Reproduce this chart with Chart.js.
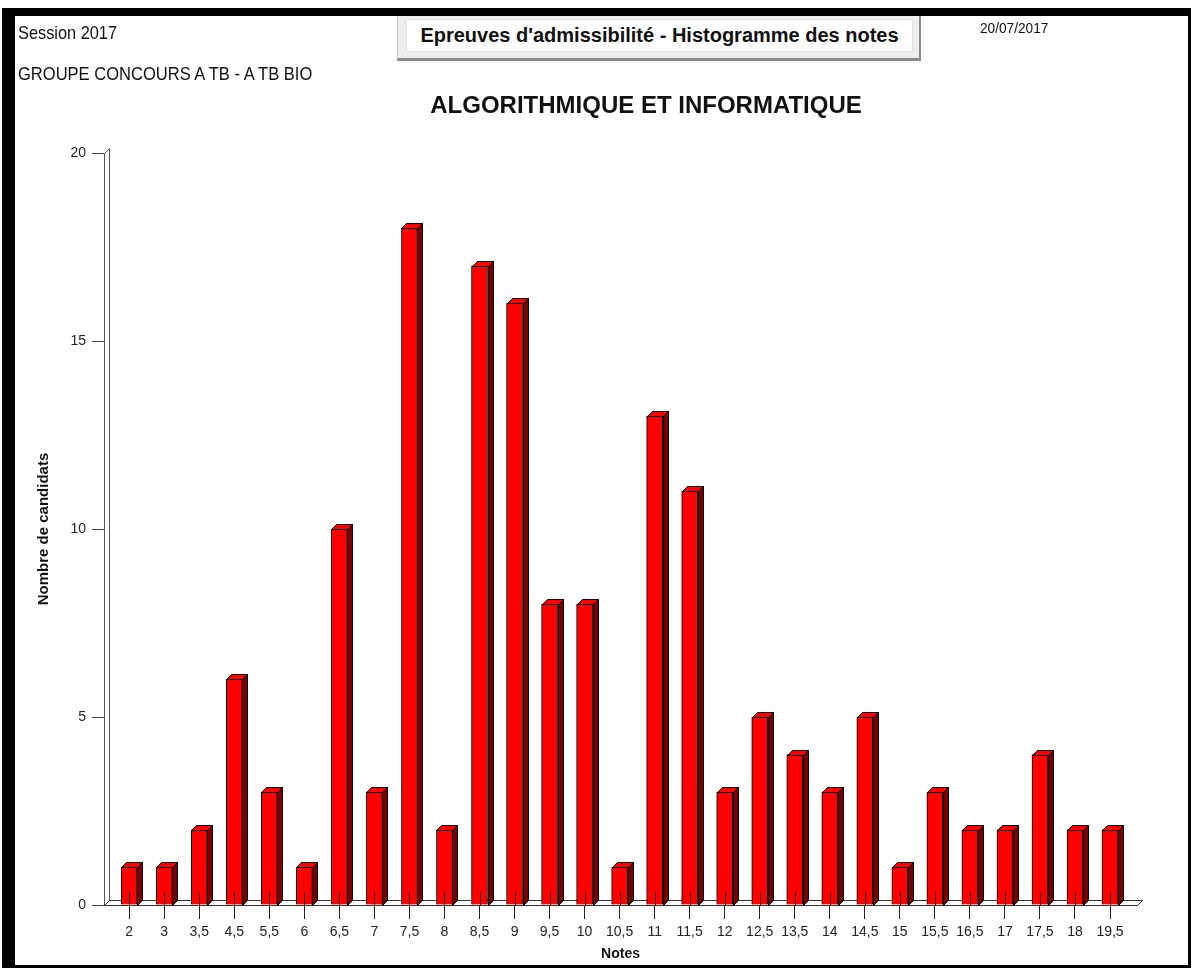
<!DOCTYPE html>
<html>
<head>
<meta charset="utf-8">
<script src="https://cdn.jsdelivr.net/npm/chart.js@4"></script>
<style>
  html, body { margin: 0; padding: 0; background: #fff; }
  #page { position: relative; width: 1192px; height: 969px; overflow: hidden; }
  #frame { position: absolute; left: 2px; top: 8px; width: 1189px; height: 960px; box-sizing: border-box;
           border-top: 8px solid #000; border-left: 13px solid #000; border-right: 3px solid #000; border-bottom: 3px solid #000; }
  canvas { position: absolute; left: 0; top: 0; }
  .txt { position: absolute; white-space: nowrap; color: #111; }
  .narrow { font-family: "Liberation Sans", Arial, sans-serif; transform-origin: left top; }
  .bold { font-family: "Liberation Sans", Arial, sans-serif; font-weight: bold; }
  #box { position: absolute; left: 397px; top: 16px; width: 524px; height: 45px; box-sizing: border-box;
         background: #eeeeee; border-left: 1px solid #c8c8c8; border-right: 2px solid #8a8a8a; border-bottom: 3px solid #8a8a8a; }
  #boxIn { position: absolute; left: 8px; top: 3px; right: 6px; bottom: 6px; background: #fff; border: 1px solid #e2e2e2;
           font: bold 20px "Liberation Sans", Arial, sans-serif; color: #111; text-align: center; line-height: 31px; }
</style>
</head>
<body>
<div id="page">
  <div id="frame"></div>
  <canvas id="histo" width="1192" height="969"></canvas>
  <div class="txt narrow" style="left:18px; top:22px; font-size:19px; transform:scaleX(0.86);">Session 2017</div>
  <div class="txt narrow" style="left:18px; top:63px; font-size:19px; transform:scaleX(0.87);">GROUPE CONCOURS A TB - A TB BIO</div>
  <div class="txt narrow" style="left:980px; top:19px; font-size:15px; transform:scaleX(0.91);">20/07/2017</div>
  <div id="box"><div id="boxIn">Epreuves d'admissibilité - Histogramme des notes</div></div>
  <div class="txt bold" style="left:0; width:1292px; text-align:center; top:91px; font-size:24px;">ALGORITHMIQUE ET INFORMATIQUE</div>
</div>
<script>
const notes = ['2', '3', '3,5', '4,5', '5,5', '6', '6,5', '7', '7,5', '8', '8,5', '9', '9,5', '10', '10,5',
  '11', '11,5', '12', '12,5', '13,5', '14', '14,5', '15', '15,5', '16,5', '17', '17,5', '18', '19,5'];
const candidats = [1, 1, 2, 6, 3, 1, 10, 3, 18, 2, 17, 16, 8, 8, 1, 13, 11, 3, 5, 4, 3, 5, 1, 3, 2, 2, 4, 2, 2];
const yTicks = [0, 5, 10, 15, 20];

const DEPTH = 5;

// sol + mur du fond en pseudo 3D
const floorPlugin = {
  id: 'floor',
  beforeDatasetsDraw(chart) {
    const { ctx, chartArea: a } = chart;
    ctx.save();
    ctx.lineWidth = 1;
    ctx.strokeStyle = '#333';
    ctx.fillStyle = '#fff';
    ctx.beginPath();
    ctx.moveTo(a.left + 0.5, a.bottom + 0.5);
    ctx.lineTo(a.left + DEPTH + 0.5, a.bottom - DEPTH + 0.5);
    ctx.lineTo(a.right + DEPTH + 0.5, a.bottom - DEPTH + 0.5);
    ctx.lineTo(a.right + 0.5, a.bottom + 0.5);
    ctx.closePath();
    ctx.fill();
    ctx.stroke();
    ctx.strokeStyle = '#555';
    ctx.beginPath();
    ctx.moveTo(a.left + 0.5, a.top + 0.5);
    ctx.lineTo(a.left + DEPTH + 0.5, a.top - DEPTH + 0.5);
    ctx.lineTo(a.left + DEPTH + 0.5, a.bottom - DEPTH + 0.5);
    ctx.stroke();
    ctx.restore();
  },
  afterDatasetsDraw(chart) {
    const { ctx, chartArea: a } = chart;
    const meta = chart.getDatasetMeta(0);
    ctx.save();
    ctx.lineWidth = 1;
    meta.data.forEach(bar => {
      const l = Math.round(bar.x - bar.width / 2) + 0.5;
      const r = Math.round(bar.x + bar.width / 2) + 0.5;
      const t = Math.round(bar.y) + 0.5;
      const b = Math.round(bar.base) + 0.5;
      ctx.strokeStyle = '#000';
      // face laterale
      ctx.fillStyle = '#7a0000';
      ctx.beginPath();
      ctx.moveTo(r, t);
      ctx.lineTo(r + DEPTH, t - DEPTH);
      ctx.lineTo(r + DEPTH, b - DEPTH);
      ctx.lineTo(r, b);
      ctx.closePath();
      ctx.fill();
      ctx.stroke();
      // dessus
      ctx.fillStyle = '#ff0000';
      ctx.beginPath();
      ctx.moveTo(l, t);
      ctx.lineTo(l + DEPTH, t - DEPTH);
      ctx.lineTo(r + DEPTH, t - DEPTH);
      ctx.lineTo(r, t);
      ctx.closePath();
      ctx.fill();
      ctx.stroke();
      // petit trait de graduation dans la barre
      const cx = Math.round(bar.x) + 0.5;
      ctx.strokeStyle = '#222';
      ctx.beginPath();
      ctx.moveTo(cx, a.bottom - 13);
      ctx.lineTo(cx, a.bottom);
      ctx.stroke();
    });
    ctx.restore();
  }
};

const tickFont = { family: '"Liberation Sans", Arial, sans-serif', size: 14 };

new Chart(document.getElementById('histo'), {
  type: 'bar',
  data: {
    datasets: [{
      data: candidats.map((v, i) => ({ x: i, y: v })),
      backgroundColor: '#ff0000',
      borderColor: '#000',
      borderWidth: 1,
      barThickness: 16
    }]
  },
  options: {
    responsive: false,
    animation: false,
    layout: { padding: { top: 153, right: 55, bottom: 0, left: 0 } },
    plugins: { legend: { display: false }, tooltip: { enabled: false } },
    scales: {
      x: {
        type: 'linear',
        min: -0.72,
        max: 28.77,
        offset: false,
        afterFit(s) { s.height = 64; },
        border: { color: '#333' },
        grid: { offset: false, drawOnChartArea: false, drawTicks: true, tickLength: 14, color: '#222' },
        ticks: {
          stepSize: 1, includeBounds: false, autoSkip: false, maxRotation: 0, maxTicksLimit: 60,
          padding: 5, color: '#222', font: tickFont,
          callback: v => notes[v] ?? ''
        },
        title: { display: true, text: 'Notes', color: '#111', padding: { top: 0, bottom: 6 },
          font: { family: '"Liberation Sans", Arial, sans-serif', size: 14, weight: 'bold' } }
      },
      y: {
        min: 0,
        max: 20,
        afterFit(s) { s.width = 104; },
        afterBuildTicks(s) { s.ticks = yTicks.map(v => ({ value: v })); },
        border: { color: '#555' },
        grid: { drawOnChartArea: false, drawTicks: true, tickLength: 12, color: '#444' },
        ticks: { padding: 6, color: '#222', font: tickFont },
        title: { display: true, text: 'Nombre de candidats', color: '#111', padding: { top: 35, bottom: 0 },
          font: { family: '"Liberation Sans", Arial, sans-serif', size: 15, weight: 'bold' } }
      }
    }
  },
  plugins: [floorPlugin]
});
</script>
</body>
</html>
